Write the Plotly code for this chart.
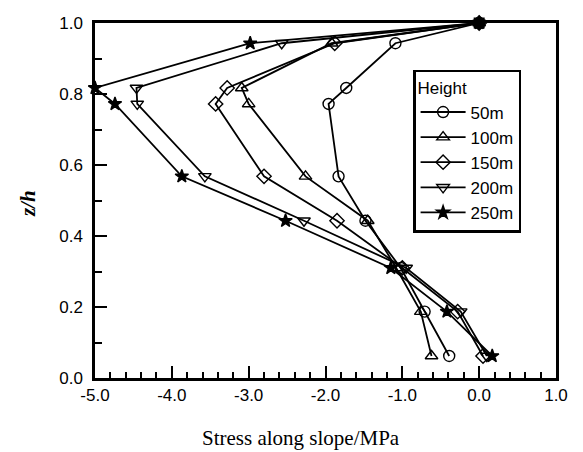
import plotly.graph_objects as go

z_levels = [1.0, 0.943, 0.817, 0.772, 0.568, 0.443, 0.31, 0.187, 0.062]
s_50 = [0.0, -1.09, -1.73, -1.96, -1.83, -1.48, -1.02, -0.71, -0.39]
s_100 = [0.0, -1.92, -3.09, -3.0, -2.26, -1.45, -1.08, -0.76, -0.62]
s_150 = [0.0, -1.88, -3.28, -3.43, -2.8, -1.85, -1.0, -0.28, 0.05]
s_200 = [0.0, -2.57, -4.46, -4.45, -3.57, -2.28, -0.95, -0.24, 0.1]
s_250 = [0.0, -2.98, -5.0, -4.74, -3.87, -2.52, -1.15, -0.42, 0.17]
names = ["50m", "100m", "150m", "200m", "250m"]
series = [s_50, s_100, s_150, s_200, s_250]
symbols = ["circle-open", "triangle-up-open", "diamond-open", "triangle-down-open", "star"]
sizes = [11, 11, 11, 11, 10]

x_tickvals = [-5, -4, -3, -2, -1, 0, 1]
x_ticktext = ["-5.0", "-4.0", "-3.0", "-2.0", "-1.0", "0.0", "1.0"]
y_tickvals = [0.0, 0.2, 0.4, 0.6, 0.8, 1.0]
y_ticktext = ["0.0", "0.2", "0.4", "0.6", "0.8", "1.0"]

fig = go.Figure()
for nm, xs, sym, sz in zip(names, series, symbols, sizes):
    fig.add_trace(go.Scatter(
        x=xs, y=z_levels, name=nm, mode="lines+markers",
        line=dict(color="black", width=1.8),
        marker=dict(symbol=sym, size=sz, color="black",
                    line=dict(color="black", width=1.4)),
        cliponaxis=False,
    ))

# filled square where all series meet at the top
fig.add_trace(go.Scatter(
    x=[s_50[0]], y=[z_levels[0]], mode="markers", showlegend=False,
    marker=dict(symbol="square", size=11, color="black"), cliponaxis=False,
))

axis_common = dict(
    showline=True, linecolor="black", linewidth=2.5, mirror=True,
    ticks="inside", tickcolor="black", tickwidth=1.5, ticklen=12,
    showgrid=False, zeroline=False,
    tickfont=dict(family="Liberation Sans, Arial", size=17, color="black"),
)

fig.update_layout(
    width=583, height=452,
    margin=dict(l=95, r=27, t=23, b=74),
    plot_bgcolor="white", paper_bgcolor="white",
    xaxis=dict(range=[-5, 1], tickvals=x_tickvals, ticktext=x_ticktext,
               minor=dict(dtick=0.2, ticks="inside", ticklen=6, tickcolor="black", tickwidth=1.5),
               **axis_common),
    yaxis=dict(range=[0, 1], tickvals=y_tickvals, ticktext=y_ticktext,
               minor=dict(dtick=0.1, ticks="inside", ticklen=7, tickcolor="black", tickwidth=1.5),
               ticklabelstandoff=6,
               **axis_common),
    legend=dict(
        x=0.69, y=0.868, xanchor="left", yanchor="top",
        bordercolor="black", borderwidth=2.5, bgcolor="white",
        title=dict(text="Height", font=dict(family="Liberation Sans, Arial", size=17, color="black")),
        font=dict(family="Liberation Sans, Arial", size=17, color="black"),
        tracegroupgap=0, itemwidth=45,
    ),
    showlegend=True,
    annotations=[
        dict(text="Stress along slope/MPa", xref="paper", yref="paper",
             x=(301 - 95) / 461, y=-(438 - 378) / 355, xanchor="center", yanchor="middle",
             showarrow=False, font=dict(family="Liberation Serif, Times New Roman", size=21, color="black")),
        dict(text="<b><i>z/h</i></b>", xref="paper", yref="paper",
             x=-(95 - 28) / 461, y=0.49, xanchor="center", yanchor="middle", textangle=-90,
             showarrow=False, font=dict(family="Liberation Serif, Times New Roman", size=21, color="black")),
    ],
)

fig.write_html("out.html")
